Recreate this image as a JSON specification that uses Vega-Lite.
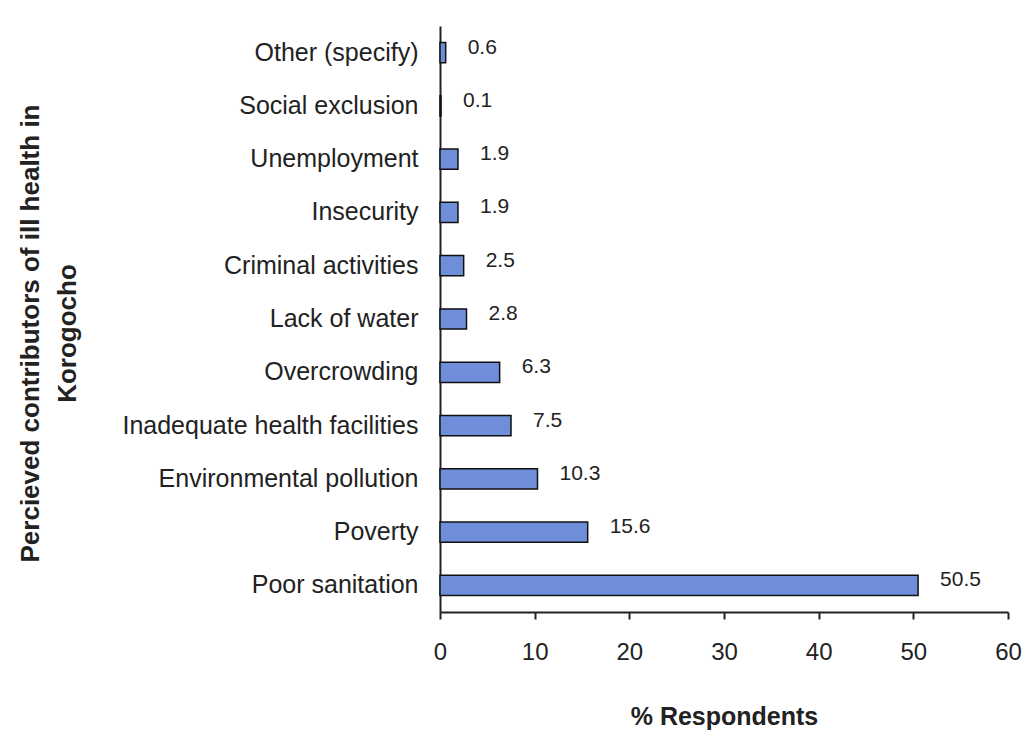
{
  "$schema": "https://vega.github.io/schema/vega-lite/v6.json",
  "width": 568,
  "height": 586,
  "autosize": {"type": "none"},
  "padding": {"left": 440, "top": 26, "right": 27, "bottom": 129},
  "background": "white",
  "config": {"view": {"stroke": null}, "font": "Liberation Sans"},
  "data": {"values": [
    {"factor": "Other (specify)", "pct": 0.6},
    {"factor": "Social exclusion", "pct": 0.1},
    {"factor": "Unemployment", "pct": 1.9},
    {"factor": "Insecurity", "pct": 1.9},
    {"factor": "Criminal activities", "pct": 2.5},
    {"factor": "Lack of water", "pct": 2.8},
    {"factor": "Overcrowding", "pct": 6.3},
    {"factor": "Inadequate health facilities", "pct": 7.5},
    {"factor": "Environmental pollution", "pct": 10.3},
    {"factor": "Poverty", "pct": 15.6},
    {"factor": "Poor sanitation", "pct": 50.5}
  ]},
  "encoding": {
    "y": {
      "field": "factor", "type": "nominal", "sort": null,
      "scale": {"paddingInner": 0.62, "paddingOuter": 0.31},
      "axis": {
        "title": ["Percieved contributors of ill health in", "Korogocho"],
        "titleFontSize": 26, "titleFontWeight": "bold", "titleColor": "#222",
        "titleAngle": -90, "titleX": -410, "titleY": 307, "titleAlign": "center", "titleBaseline": "middle", "titleLineHeight": 37,
        "labelFontSize": 25, "labelColor": "#222", "labelPadding": 22, "labelLimit": 420,
        "ticks": false, "domainColor": "#222", "domainWidth": 2
      }
    },
    "x": {
      "field": "pct", "type": "quantitative",
      "scale": {"domain": [0, 60]},
      "axis": {
        "title": "% Respondents", "titleFontSize": 25, "titleFontWeight": "bold", "titleColor": "#222", "titlePadding": 40,
        "values": [0, 10, 20, 30, 40, 50, 60],
        "labelFontSize": 24, "labelColor": "#222", "labelPadding": 21, "labelFlush": false,
        "grid": false, "tickSize": 7, "tickColor": "#222", "tickWidth": 2, "domainColor": "#222", "domainWidth": 2
      }
    }
  },
  "layer": [
    {"mark": {"type": "bar", "color": "#6e8ed9", "stroke": "#111", "strokeWidth": 1.5}},
    {"mark": {"type": "text", "align": "left", "dx": 22, "dy": -5, "fontSize": 21, "color": "#222"},
     "encoding": {"text": {"field": "pct", "type": "quantitative", "format": ".1f"}}}
  ]
}
